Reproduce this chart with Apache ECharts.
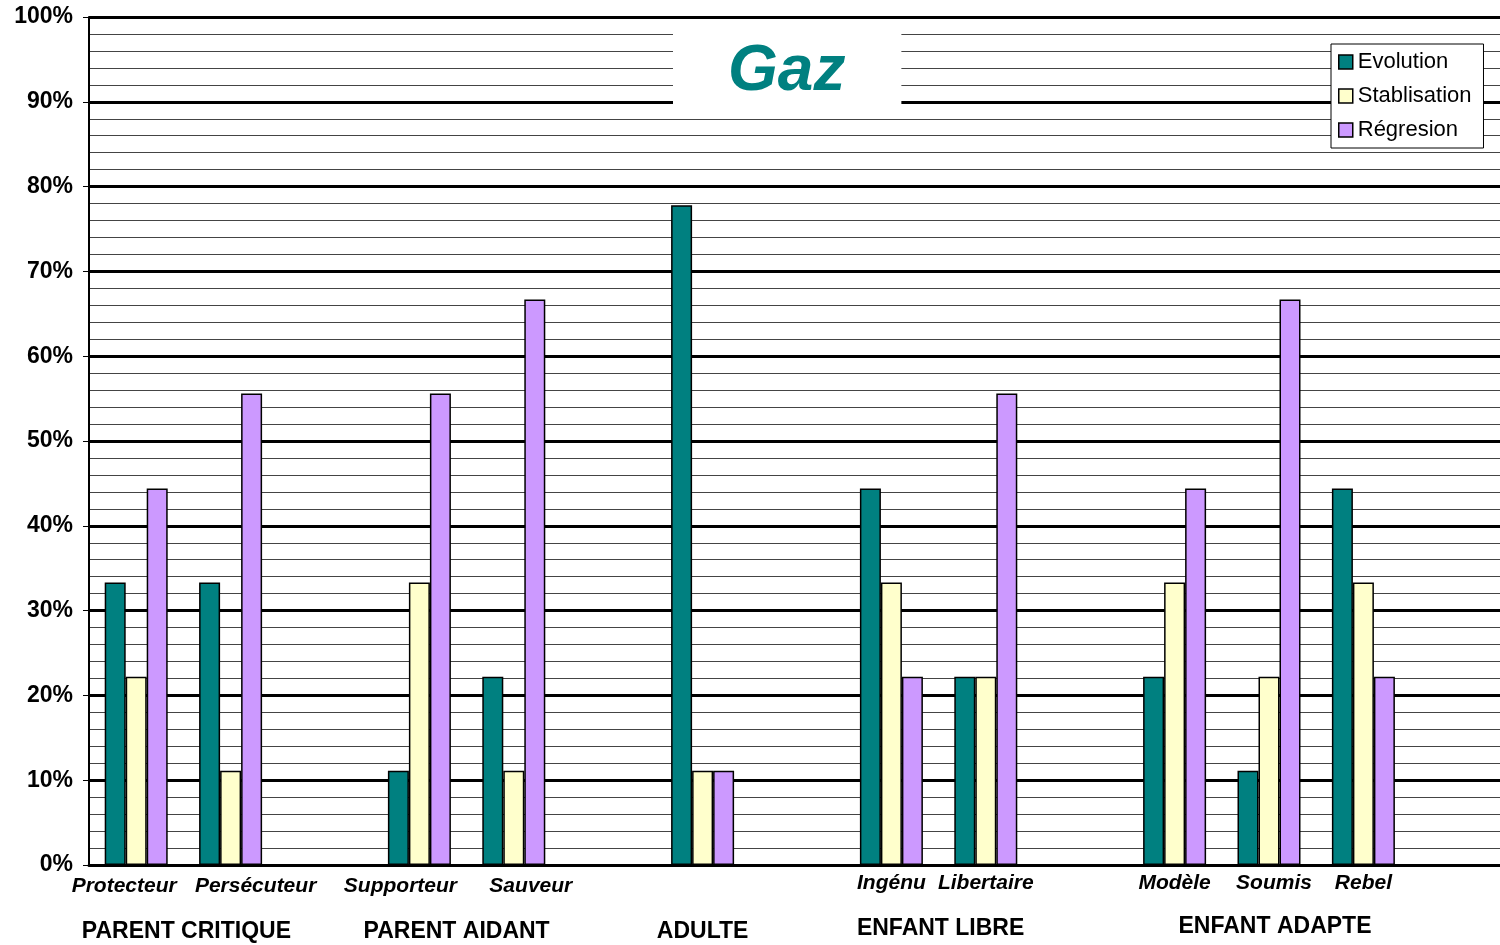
<!DOCTYPE html>
<html>
<head>
<meta charset="utf-8">
<script src="https://cdn.jsdelivr.net/npm/echarts@6/dist/echarts.min.js"></script>
<style>html,body{margin:0;padding:0;background:#fff;}#c{width:1500px;height:945px;}</style>
</head>
<body>
<div id="c"></div>
<script>
// Categories (entries starting with "_" are unlabeled slots / gaps)
var categories = ['Protecteur', 'Persécuteur', '_g1', 'Supporteur', 'Sauveur', '_g2', '_adulte', '_g3', 'Ingénu', 'Libertaire', '_g4', 'Modèle', 'Soumis', 'Rebel', '_g5'];
var evolution    = [33.3, 33.3, null, 11.1, 22.2, null, 77.8, null, 44.4, 22.2, null, 22.2, 11.1, 44.4, null];
var stablisation = [22.2, 11.1, null, 33.3, 11.1, null, 11.1, null, 33.3, 22.2, null, 33.3, 22.2, 33.3, null];
var regresion    = [44.4, 55.6, null, 55.6, 66.7, null, 11.1, null, 22.2, 55.6, null, 44.4, 66.7, 22.2, null];
var seriesNames = ['Evolution', 'Stablisation', 'Régresion'];
var groupLabels = ['PARENT CRITIQUE', 'PARENT AIDANT', 'ADULTE', 'ENFANT LIBRE', 'ENFANT ADAPTE'];
var groupFirst  = ['Protecteur', 'Supporteur', '_adulte', 'Ingénu', 'Modèle'];
var groupLast   = ['Persécuteur', 'Sauveur', '_adulte', 'Libertaire', 'Rebel'];
var yTicks = [0, 10, 20, 30, 40, 50, 60, 70, 80, 90, 100];

var colors = ['#008080', '#FFFFCC', '#CC99FF'];
var FF = '"Liberation Sans", Arial, sans-serif';
var chart = echarts.init(document.getElementById('c'));

// label padding (layout only): shifts some category labels as in the original
var labelPad = {
  'Protecteur': [3, 24, 0, 0],
  'Persécuteur': [3, 0, 0, 50],
  'Supporteur': [3, 38, 0, 0],
  'Sauveur': [3, 0, 0, 34],
  'Soumis': [0, 0, 0, 10]
};
var xData = categories.map(function (c) {
  var o = { value: c };
  if (labelPad[c]) o.textStyle = { padding: labelPad[c] };
  return o;
});

function bar(name, data, color) {
  return {
    name: name, type: 'bar', data: data, barWidth: 21, barGap: '0%',
    itemStyle: { color: color, borderColor: '#000', borderWidth: 1.5 },
    emphasis: { disabled: true }
  };
}

chart.setOption({
  animation: false,
  title: {
    text: 'Gaz', left: 673, top: 26,
    padding: [14, 56, 14, 55],
    backgroundColor: '#fff',
    textStyle: { color: '#008080', fontSize: 64, fontWeight: 'bold', fontStyle: 'italic', fontFamily: FF }
  },
  legend: {
    orient: 'vertical', left: 1331, top: 44,
    padding: [7, 12, 7, 7],
    itemWidth: 14, itemHeight: 14, itemGap: 12, itemTextGap: 6,
    backgroundColor: '#fff', borderColor: '#000', borderWidth: 1,
    icon: 'rect',
    itemStyle: { borderColor: '#000', borderWidth: 1.5 },
    textStyle: { fontSize: 22, color: '#000', fontFamily: FF, lineHeight: 22 },
    data: seriesNames
  },
  grid: { left: 89, top: 17, width: 1416, bottom: 80, containLabel: false, outerBoundsMode: 'none' },
  xAxis: {
    type: 'category', data: xData, boundaryGap: true,
    axisLine: { lineStyle: { color: '#000', width: 3 } },
    axisTick: { show: false },
    axisLabel: {
      interval: 0, margin: 8,
      formatter: function (v) { return v.charAt(0) === '_' ? '' : v; },
      fontSize: 21, fontWeight: 'bold', fontStyle: 'italic', color: '#000',
      fontFamily: FF
    }
  },
  yAxis: {
    type: 'value', min: yTicks[0], max: yTicks[yTicks.length - 1], interval: 10,
    axisLine: { show: true, lineStyle: { color: '#000', width: 2 } },
    axisTick: { show: true, length: 6, lineStyle: { color: '#000', width: 1 } },
    axisLabel: {
      margin: 16, formatter: '{value}%',
      fontSize: 23, fontWeight: 'bold', color: '#000',
      fontFamily: FF
    },
    splitLine: { show: true, lineStyle: { color: '#000', width: 3 } },
    minorTick: { show: false, splitNumber: 5 },
    minorSplitLine: { show: true, lineStyle: { color: '#444', width: 1 } }
  },
  series: [
    bar(seriesNames[0], evolution, colors[0]),
    bar(seriesNames[1], stablisation, colors[1]),
    bar(seriesNames[2], regresion, colors[2])
  ]
});

var groupY = [932, 932, 932, 929, 927];
var groupDx = [3, -10, 0, 2, 6];
var graphics = groupLabels.map(function (lab, i) {
  var x1 = chart.convertToPixel({ xAxisIndex: 0 }, categories.indexOf(groupFirst[i]));
  var x2 = chart.convertToPixel({ xAxisIndex: 0 }, categories.indexOf(groupLast[i]));
  return {
    type: 'text', x: (x1 + x2) / 2 + groupDx[i], y: groupY[i],
    style: {
      text: lab, fill: '#000', font: 'bold 23px ' + FF,
      textAlign: 'center', textVerticalAlign: 'middle'
    }
  };
});
chart.setOption({ graphic: graphics });
</script>
</body>
</html>
